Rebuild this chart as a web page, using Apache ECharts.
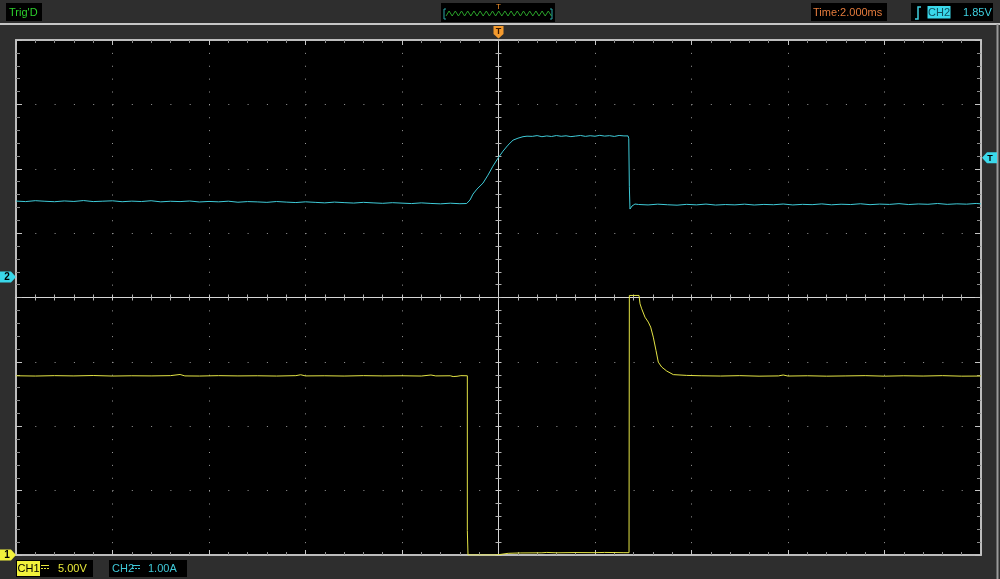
<!DOCTYPE html>
<html><head><meta charset="utf-8">
<script src="https://cdn.jsdelivr.net/npm/echarts@6/dist/echarts.min.js"></script>
<style>html,body{margin:0;padding:0;background:#2e2e2e;overflow:hidden}#c{width:1000px;height:579px}</style>
</head><body><div id="c"></div>
<script>
// ---- scope settings ----
const timePerDiv = 2;          // ms / div
const ch1VoltsPerDiv = 5;      // V / div
const ch2AmpsPerDiv = 1;       // A / div
const ch1GroundDiv = -4;       // CH1 ground marker (divisions from centre)
const ch2GroundDiv = 0.32;     // CH2 ground marker
const triggerLevel = 1.85;     // trigger level (CH2 units)
const statusText = "Trig'D";
const timebaseText = 'Time:2.000ms';
const trigSourceText = 'CH2';
const trigLevelText = '1.85V';
const ch1Label = 'CH1', ch1ScaleText = '5.00V';
const ch2Label = 'CH2', ch2ScaleText = '1.00A';

// ---- CH1 trace [time ms, volts] ----
const ch1Points = [
 [-10.0,13.92],[-9.6,13.90],[-9.2,13.93],[-8.8,13.91],[-8.4,13.94],[-8.0,13.90],[-7.6,13.92],[-7.2,13.91],
 [-6.8,13.93],[-6.6,14.02],[-6.5,13.91],[-6.2,13.90],[-5.8,13.93],[-5.4,13.91],[-5.0,13.92],[-4.6,13.90],
 [-4.2,13.93],[-4.1,14.00],[-4.0,13.91],[-3.6,13.92],[-3.2,13.90],[-2.8,13.93],[-2.4,13.91],[-2.0,13.92],
 [-1.6,13.90],[-1.4,13.98],[-1.3,13.91],[-1.0,13.92],[-0.94,13.86],[-0.86,13.88],[-0.78,13.93],
 [-0.646,13.92],[-0.646,1.9],[-0.632,1.8],[-0.632,0.0],[-0.07,0.0],[0.03,0.04],[0.20,0.13],[0.45,0.16],
 [0.9,0.17],[1.0,0.20],[1.2,0.17],[1.6,0.19],[2.0,0.18],[2.2,0.20],[2.6,0.18],[2.705,0.18],
 [2.712,20.16],[2.912,20.16],[2.933,19.51],[2.968,19.12],[3.036,18.47],[3.104,18.09],[3.154,17.70],
 [3.208,16.92],[3.264,15.89],[3.312,14.98],[3.382,14.60],[3.486,14.29],[3.623,14.01],[3.901,13.95],
 [4.2,13.92],[4.6,13.90],[5.0,13.93],[5.4,13.89],[5.8,13.91],[5.9,13.98],[6.0,13.90],[6.4,13.92],
 [6.8,13.89],[7.2,13.91],[7.6,13.93],[8.0,13.89],[8.4,13.92],[8.8,13.90],[9.2,13.93],[9.6,13.89],[10.0,13.90]
];

// ---- CH2 trace [time ms, amps] ----
const ch2Points = [
 [-10.0,1.178],[-9.8,1.170],[-9.6,1.184],[-9.4,1.175],[-9.2,1.168],[-9.0,1.180],[-8.8,1.172],[-8.6,1.186],
 [-8.4,1.170],[-8.2,1.176],[-8.0,1.182],[-7.8,1.168],[-7.6,1.177],[-7.4,1.171],[-7.2,1.183],[-7.0,1.166],
 [-6.8,1.175],[-6.6,1.170],[-6.4,1.179],[-6.2,1.164],[-6.0,1.172],[-5.8,1.166],[-5.6,1.176],[-5.4,1.160],
 [-5.2,1.170],[-5.0,1.165],[-4.8,1.158],[-4.6,1.171],[-4.4,1.162],[-4.2,1.155],[-4.0,1.166],[-3.8,1.158],
 [-3.6,1.150],[-3.4,1.162],[-3.2,1.154],[-3.0,1.147],[-2.8,1.158],[-2.6,1.150],[-2.4,1.143],[-2.2,1.153],
 [-2.0,1.146],[-1.8,1.139],[-1.6,1.150],[-1.4,1.141],[-1.2,1.135],[-1.0,1.145],[-0.8,1.137],[-0.66,1.140],
 [-0.638,1.132],[-0.591,1.194],[-0.528,1.287],[-0.446,1.364],[-0.321,1.457],[-0.218,1.581],[-0.114,1.721],
 [-0.010,1.845],[0.093,1.953],[0.197,2.047],[0.301,2.124],[0.404,2.155],[0.508,2.178],[0.591,2.186],
 [0.7,2.183],[0.8,2.195],[0.9,2.178],[1.0,2.190],[1.1,2.181],[1.2,2.196],[1.3,2.184],[1.4,2.192],
 [1.5,2.179],[1.6,2.188],[1.7,2.197],[1.8,2.183],[1.9,2.193],[2.0,2.185],[2.1,2.199],[2.2,2.187],
 [2.3,2.194],[2.4,2.182],[2.5,2.197],[2.6,2.190],[2.685,2.190],[2.700,2.150],[2.712,1.400],[2.725,1.054],
 [2.767,1.101],[2.829,1.132],[2.9,1.125],[3.1,1.118],[3.3,1.130],[3.5,1.121],[3.7,1.114],[3.9,1.127],
 [4.1,1.119],[4.3,1.131],[4.5,1.116],[4.7,1.124],[4.9,1.119],[5.1,1.130],[5.3,1.117],[5.5,1.126],
 [5.7,1.121],[5.9,1.132],[6.1,1.118],[6.3,1.127],[6.5,1.122],[6.7,1.134],[6.9,1.120],[7.1,1.129],
 [7.3,1.124],[7.5,1.136],[7.7,1.122],[7.9,1.131],[8.1,1.126],[8.3,1.138],[8.5,1.124],[8.7,1.133],
 [8.9,1.128],[9.1,1.140],[9.3,1.127],[9.5,1.135],[9.7,1.130],[9.9,1.141],[10.0,1.134]
];

const FONT = "'Liberation Sans', Arial, sans-serif";
const BORDER = '#bdbdbd';
const GRID = {left:16, top:40, width:965, height:515};
const hDivs = 10, vDivs = 8;

const chart = echarts.init(document.getElementById('c'), null, {renderer:'canvas', width:1000, height:579});

function borderAxis(extra){
  return Object.assign({
    type:'value', gridIndex:0,
    axisLine:{show:true, onZero:false, lineStyle:{color:BORDER, width:2}},
    axisTick:{show:true, inside:true, length:5, lineStyle:{color:'#c4c4c4', width:1}},
    minorTick:{show:true, splitNumber:5, length:3, lineStyle:{color:'#8c8c8c', width:1}},
    axisLabel:{show:false}, splitLine:{show:false}
  }, extra);
}
function crossAxis(extra, inside){
  return Object.assign({
    type:'value', gridIndex:1, interval:1,
    axisLine:{show:true, onZero:true, onZeroAxisIndex:2, lineStyle:{color:'#d6d6d6', width:1}},
    axisTick:{show:true, inside:inside, length:3, lineStyle:{color:'#c8c8c8', width:1}},
    minorTick:{show:true, splitNumber:5, length:3, lineStyle:{color:'#b0b0b0', width:1}},
    axisLabel:{show:false}, splitLine:{show:false}
  }, extra);
}

const xHalf = hDivs/2*timePerDiv;
const ch1Min = (ch1GroundDiv + vDivs/2) * -ch1VoltsPerDiv; // ground at -4 div -> min 0
const ch2Min = (-vDivs/2 - ch2GroundDiv) * ch2AmpsPerDiv;

chart.setOption({
  animation:false,
  backgroundColor:'#2e2e2e',
  grid:[
    Object.assign({show:true, backgroundColor:'#000', borderWidth:0}, GRID),
    Object.assign({show:false}, GRID)
  ],
  xAxis:[
    borderAxis({min:-xHalf, max:xHalf, interval:timePerDiv, position:'bottom',
      splitLine:{show:true, lineStyle:{color:'#9a9a9a', width:1, type:[1, GRID.height/(vDivs*5)-1]}}}),
    borderAxis({min:-xHalf, max:xHalf, interval:timePerDiv, position:'top'}),
    crossAxis({min:-hDivs/2, max:hDivs/2, position:'bottom'}, true),
    crossAxis({min:-hDivs/2, max:hDivs/2, position:'bottom'}, false)
  ],
  yAxis:[
    borderAxis({min:ch1Min, max:ch1Min + vDivs*ch1VoltsPerDiv, interval:ch1VoltsPerDiv, position:'left',
      axisTick:{show:true, inside:true, length:6, lineStyle:{color:'#c4c4c4'}},
      minorTick:{show:true, splitNumber:5, length:4, lineStyle:{color:'#8c8c8c'}},
      splitLine:{show:true, lineStyle:{color:'#9a9a9a', width:1, type:[1, GRID.width/(hDivs*5)-1]}}}),
    borderAxis({min:ch2Min, max:ch2Min + vDivs*ch2AmpsPerDiv, interval:ch2AmpsPerDiv, position:'right',
      axisTick:{show:true, inside:true, length:6, lineStyle:{color:'#c4c4c4'}},
      minorTick:{show:true, splitNumber:5, length:4, lineStyle:{color:'#8c8c8c'}}}),
    crossAxis({min:-vDivs/2, max:vDivs/2, position:'left'}, true),
    crossAxis({min:-vDivs/2, max:vDivs/2, position:'left'}, false)
  ],
  series:[
    {type:'line', name:'CH1', xAxisIndex:0, yAxisIndex:0, data:ch1Points, symbol:'none', showSymbol:false,
     lineStyle:{color:'#e4e445', width:1}, z:4},
    {type:'line', name:'CH2', xAxisIndex:0, yAxisIndex:1, data:ch2Points, symbol:'none', showSymbol:false,
     lineStyle:{color:'#3fcbd8', width:1}, z:4}
  ]
});

// ---- chrome / markers ----
const trigX = chart.convertToPixel({xAxisIndex:0}, 0);
const ch1Y = chart.convertToPixel({yAxisIndex:0}, 0);
const ch2Y = chart.convertToPixel({yAxisIndex:1}, 0);
const trigY = chart.convertToPixel({yAxisIndex:1}, triggerLevel);

function txt(x, y, text, color, size, align, weight){
  return {type:'text', x:x, y:y, z:10, style:{text:text, fill:color, font:(weight||'normal')+' '+size+'px '+FONT,
    align:align||'left', verticalAlign:'middle'}};
}
function box(x, y, w, h, fill){ return {type:'rect', z:9, shape:{x:x, y:y, width:w, height:h}, style:{fill:fill}}; }
function line(x1,y1,x2,y2,color,w,dash){ return {type:'line', z:10, shape:{x1:x1,y1:y1,x2:x2,y2:y2}, style:{stroke:color, lineWidth:w||1, lineDash:dash||null}}; }
function leftMarker(y, color, label){
  return [{type:'polygon', z:10, shape:{points:[[0,y-5.5],[11,y-5.5],[16,y],[11,y+5.5],[0,y+5.5]]}, style:{fill:color}},
          txt(7, y+0.5, label, '#000', 10, 'center', 'bold')];
}

const zig = [];
for (let i = 0; i <= 34; i++) zig.push([446 + i*3.1, (i % 2) ? 11 : 16]);

const g = [
  box(0,23,1000,2,'#c6c6c6'),
  box(996.5,24,2,555,'#9a9a9a'),
  // Trig'D
  box(6,3,36,18,'#000'), txt(9,12.5,statusText,'#2ccf2c',11),
  // horizontal position box
  box(441,3,114,19,'#000'),
  {type:'polyline', z:10, shape:{points:zig}, style:{stroke:'#2aa02a', lineWidth:1, fill:null}},
  {type:'polyline', z:10, shape:{points:[[446,9],[444,9],[444,19],[446,19]]}, style:{stroke:'#2aa8a8', lineWidth:1, fill:null}},
  {type:'polyline', z:10, shape:{points:[[550,9],[552,9],[552,19],[550,19]]}, style:{stroke:'#2aa8a8', lineWidth:1, fill:null}},
  txt(498.5,7,'T','#f0902c',8,'center'),
  // timebase
  box(811,3,76,18,'#000'), txt(813,12.5,timebaseText,'#e47b3c',11),
  // trigger
  box(911,3,82,18,'#000'),
  {type:'polyline', z:10, shape:{points:[[915,19],[918,19],[918,7],[921,7]]}, style:{stroke:'#3fd0e0', lineWidth:1.5, fill:null}},
  box(927.5,6,23,12.5,'#3ad8ea'), txt(939,12.5,trigSourceText,'#10505f',11,'center'),
  txt(963,12.5,trigLevelText,'#3fd0e0',11),
  // trigger position marker (top)
  {type:'polygon', z:10, shape:{points:[[trigX-5,26],[trigX+5,26],[trigX+5,34],[trigX,38.5],[trigX-5,34]]}, style:{fill:'#f39a2e'}},
  txt(trigX,31.5,'T','#3a1800',9,'center','bold'),
  // trigger level marker (right)
  {type:'polygon', z:10, shape:{points:[[997,trigY-5.5],[987,trigY-5.5],[982,trigY],[987,trigY+5.5],[997,trigY+5.5]]}, style:{fill:'#3ad8ea'}},
  txt(990,trigY+0.5,'T','#000',9,'center','bold'),
  // bottom channel boxes
  box(16,560,77,17,'#000'), box(17,561,23,15,'#f2f23c'), txt(28.5,569,ch1Label,'#000',11,'center'),
  line(41,565.5,49,565.5,'#e8e83a',1), line(41,568.5,49,568.5,'#e8e83a',1,[2,1]),
  txt(58,569,ch1ScaleText,'#e8e83a',11),
  box(109,560,78,17,'#000'), txt(112,569,ch2Label,'#3fc8d8',11),
  line(132,565.5,140,565.5,'#3fc8d8',1), line(132,568.5,140,568.5,'#3fc8d8',1,[2,1]),
  txt(148,569,ch2ScaleText,'#3fc8d8',11)
].concat(leftMarker(ch2Y,'#3ad8ea','2'), leftMarker(ch1Y,'#f2f23c','1'));

chart.setOption({graphic:{elements:g}});
</script></body></html>
